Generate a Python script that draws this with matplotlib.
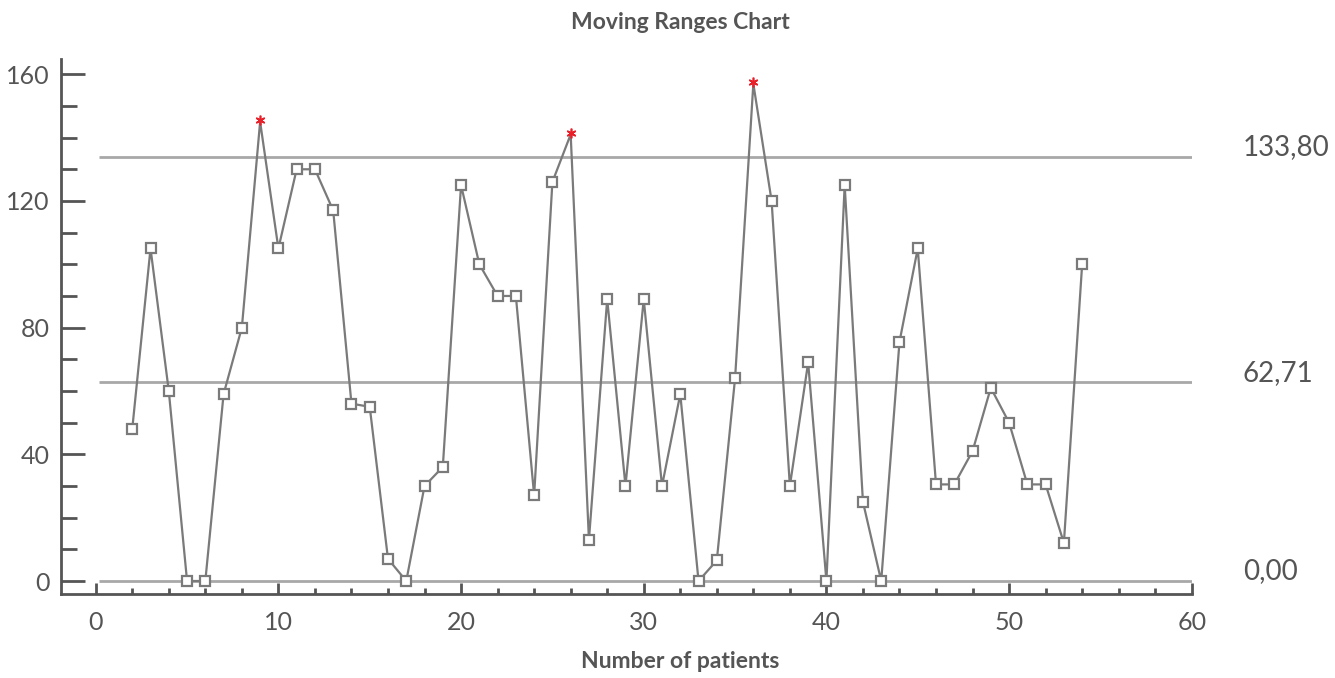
"""
Moving ranges control chart
"""

import matplotlib
matplotlib.use('Agg')
import matplotlib.pyplot as plt
import numpy as np
from matplotlib.ticker import MultipleLocator

# Data
patients = list(range(2, 55))
moving_range = [48, 105, 60, 0, 0, 59, 80, 145, 105, 130,
                130, 117, 56, 55, 7, 0, 30, 36, 125, 100,
                90, 90, 27, 126, 141, 13, 89, 30, 89, 30,
                59, 0, 6.5, 64, 157, 120, 30, 69, 0, 125,
                25, 0, 75.5, 105, 30.5, 30.5, 41, 61, 50, 30.5,
                30.5, 12, 100]
limit_values = [133.80, 62.71, 0.00]
limit_labels = ['133,80', '62,71', '0,00']

TEXT = '#555555'
SERIES = '#7a7a7a'
LIMIT = '#a8a8a8'

plt.rcParams['font.family'] = ['Lato', 'DejaVu Sans']

fig = plt.figure(figsize=(13.35, 6.78), dpi=100)
ax = fig.add_axes([0.0457, 0.1239, 0.847, 0.789])

# Control limit lines
for val, lab in zip(limit_values, limit_labels):
    ax.hlines(val, 0.2, 60, color=LIMIT, lw=2, zorder=1)
    ax.annotate(lab, xy=(62.8, val), xytext=(0, 7), textcoords='offset points',
                ha='left', va='center', fontsize=20, color=TEXT,
                annotation_clip=False)

x = np.array(patients)
y = np.array(moving_range)
out = y > limit_values[0]

ax.plot(x, y, color=SERIES, lw=1.6, zorder=2)
ax.plot(x[~out], y[~out], ls='none', marker='s', ms=6.5, mfc='white',
        mec=SERIES, mew=1.6, zorder=3)
ax.plot(x[out], y[out] + 0.5, ls='none', marker=(6, 2, 0), ms=7,
        mec='#e8202a', mew=1.2, zorder=4)

ax.set_xlim(-1.9, 60)
ax.set_ylim(-4.1, 164.8)

ax.xaxis.set_major_locator(MultipleLocator(10))
ax.xaxis.set_minor_locator(MultipleLocator(2))
ax.yaxis.set_major_locator(MultipleLocator(40))
ax.yaxis.set_minor_locator(MultipleLocator(10))

for side in ['top', 'right']:
    ax.spines[side].set_visible(False)
for side in ['left', 'bottom']:
    ax.spines[side].set_color(TEXT)
    ax.spines[side].set_linewidth(2)

ax.tick_params(axis='y', which='major', direction='in', length=17, width=2,
               color=TEXT, labelcolor=TEXT, labelsize=18, pad=8)
ax.tick_params(axis='y', which='minor', direction='in', length=11.5, width=2,
               color=TEXT)
ax.tick_params(axis='x', which='major', direction='in', length=8, width=2,
               color=TEXT, labelcolor=TEXT, labelsize=18, pad=12)
ax.tick_params(axis='x', which='minor', direction='in', length=4, width=2,
               color=TEXT)

fig.text(0.5093, 0.0236, 'Number of patients', ha='center', va='center',
         fontsize=16.5, fontweight='bold', color=TEXT)
fig.text(0.5093, 0.967, 'Moving Ranges Chart', ha='center', va='center',
         fontsize=16.5, fontweight='bold', color=TEXT)

plt.savefig('out.png', dpi=100)
plt.close()
